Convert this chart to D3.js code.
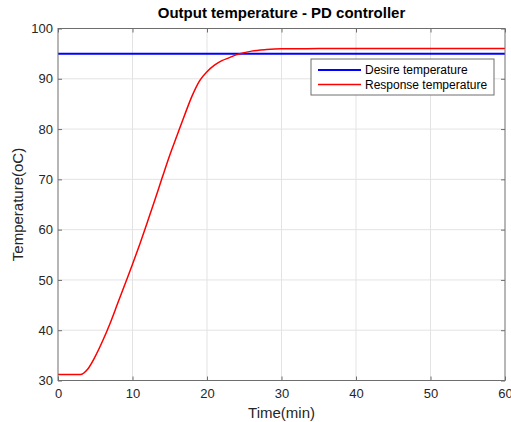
<!DOCTYPE html>
<html>
<head>
<meta charset="utf-8">
<script src="https://cdn.jsdelivr.net/npm/d3@7"></script>
<style>
  body { margin: 0; background: #fff; }
  svg { font-family: "Liberation Sans", Arial, sans-serif; }
</style>
</head>
<body>
<svg id="chart" width="511" height="422"></svg>
<script>
// data
var timeMin = [0, 3, 4, 5, 6, 7, 8, 9, 10, 11, 12, 13, 14, 15, 16, 17, 18, 19, 20, 21, 22, 23, 24, 25, 26, 28, 30, 35, 40, 60];
var responseTemp = [31.2, 31.2, 32.3, 34.8, 37.9, 41.4, 45.3, 49.2, 53.1, 57.2, 61.5, 65.9, 70.4, 74.8, 78.8, 82.8, 86.6, 89.6, 91.4, 92.7, 93.6, 94.2, 94.8, 95.2, 95.5, 95.8, 95.95, 96.0, 96.0, 96.0];
var desiredTemp = 95;
var xTicks = [0, 10, 20, 30, 40, 50, 60];
var yTicks = [30, 40, 50, 60, 70, 80, 90, 100];
var seriesNames = ["Desire temperature", "Response temperature"];
var seriesColors = ["#0000ff", "#ff0000"];

var svg = d3.select("#chart");
// plot box edges (note: "top" is taken by window.top)
var plotL = 58, plotR = 505, plotT = 28.5, plotB = 380.5;

var x = d3.scaleLinear().domain([0, 60]).range([plotL, plotR]);
var y = d3.scaleLinear().domain([30, 100]).range([plotB, plotT]);

// grid
var grid = svg.append("g").attr("class", "grid");
grid.selectAll(".gx").data(xTicks.slice(1, -1)).enter().append("line")
  .attr("x1", function(d) { return x(d); })
  .attr("x2", function(d) { return x(d); })
  .attr("y1", plotT).attr("y2", plotB)
  .attr("stroke", "#e3e3e3").attr("stroke-width", 1);
grid.selectAll(".gy").data(yTicks.slice(1, -1)).enter().append("line")
  .attr("y1", function(d) { return y(d); })
  .attr("y2", function(d) { return y(d); })
  .attr("x1", plotL).attr("x2", plotR)
  .attr("stroke", "#e3e3e3").attr("stroke-width", 1);

// axes, ticks inward on all four sides
var axisColor = "#6e6e6e";
function styleAxis(g) {
  g.select(".domain").remove();
  g.selectAll(".tick line").attr("stroke", axisColor);
  g.selectAll(".tick text").attr("fill", "#262626").attr("font-size", "13px");
}
svg.append("g").attr("transform", "translate(0," + plotB + ")")
  .call(d3.axisBottom(x).tickValues(xTicks).tickSizeInner(-4).tickPadding(8))
  .call(styleAxis);
svg.append("g").attr("transform", "translate(" + plotL + ",0)")
  .call(d3.axisLeft(y).tickValues(yTicks).tickSizeInner(-4).tickPadding(5))
  .call(styleAxis);
svg.append("g").attr("transform", "translate(0," + plotT + ")")
  .call(d3.axisTop(x).tickValues(xTicks).tickSizeInner(-4).tickFormat(""))
  .call(styleAxis);
svg.append("g").attr("transform", "translate(" + plotR + ",0)")
  .call(d3.axisRight(y).tickValues(yTicks).tickSizeInner(-4).tickFormat(""))
  .call(styleAxis);

// lines
svg.append("line")
  .attr("x1", x(0)).attr("x2", x(60))
  .attr("y1", y(desiredTemp)).attr("y2", y(desiredTemp))
  .attr("stroke", seriesColors[0]).attr("stroke-width", 2);

var line = d3.line()
  .x(function(d, i) { return x(timeMin[i]); })
  .y(function(d) { return y(d); })
  .curve(d3.curveMonotoneX);

svg.append("path")
  .datum(responseTemp)
  .attr("d", line)
  .attr("fill", "none")
  .attr("stroke", seriesColors[1])
  .attr("stroke-width", 1.5);

// plot box
svg.append("rect")
  .attr("x", plotL).attr("y", plotT)
  .attr("width", plotR - plotL).attr("height", plotB - plotT)
  .attr("fill", "none").attr("stroke", axisColor).attr("stroke-width", 1);

// legend
var legend = svg.append("g").attr("transform", "translate(311,59)");
legend.append("rect")
  .attr("width", 183).attr("height", 36)
  .attr("fill", "#fff").attr("stroke", "#6e6e6e");
var item = legend.selectAll(".item").data(seriesNames).enter().append("g")
  .attr("transform", function(d, i) { return "translate(0," + (11 + i * 14.5) + ")"; });
item.append("line")
  .attr("x1", 7).attr("x2", 50)
  .attr("stroke", function(d, i) { return seriesColors[i]; })
  .attr("stroke-width", function(d, i) { return i == 0 ? 2 : 1.5; });
item.append("text")
  .attr("x", 54).attr("dy", "0.35em")
  .attr("font-size", "12px").attr("fill", "#000")
  .text(function(d) { return d; });

// titles
svg.append("text")
  .attr("x", (plotL + plotR) / 2).attr("y", 18)
  .attr("text-anchor", "middle")
  .attr("font-size", "15px").attr("font-weight", "bold")
  .text("Output temperature - PD controller");

svg.append("text")
  .attr("x", (plotL + plotR) / 2).attr("y", 418)
  .attr("text-anchor", "middle")
  .attr("font-size", "15px").attr("fill", "#262626")
  .text("Time(min)");

svg.append("text")
  .attr("transform", "translate(23," + (plotT + plotB) / 2 + ") rotate(-90)")
  .attr("text-anchor", "middle")
  .attr("font-size", "15px").attr("fill", "#262626")
  .text("Temperature(oC)");
</script>
</body>
</html>
